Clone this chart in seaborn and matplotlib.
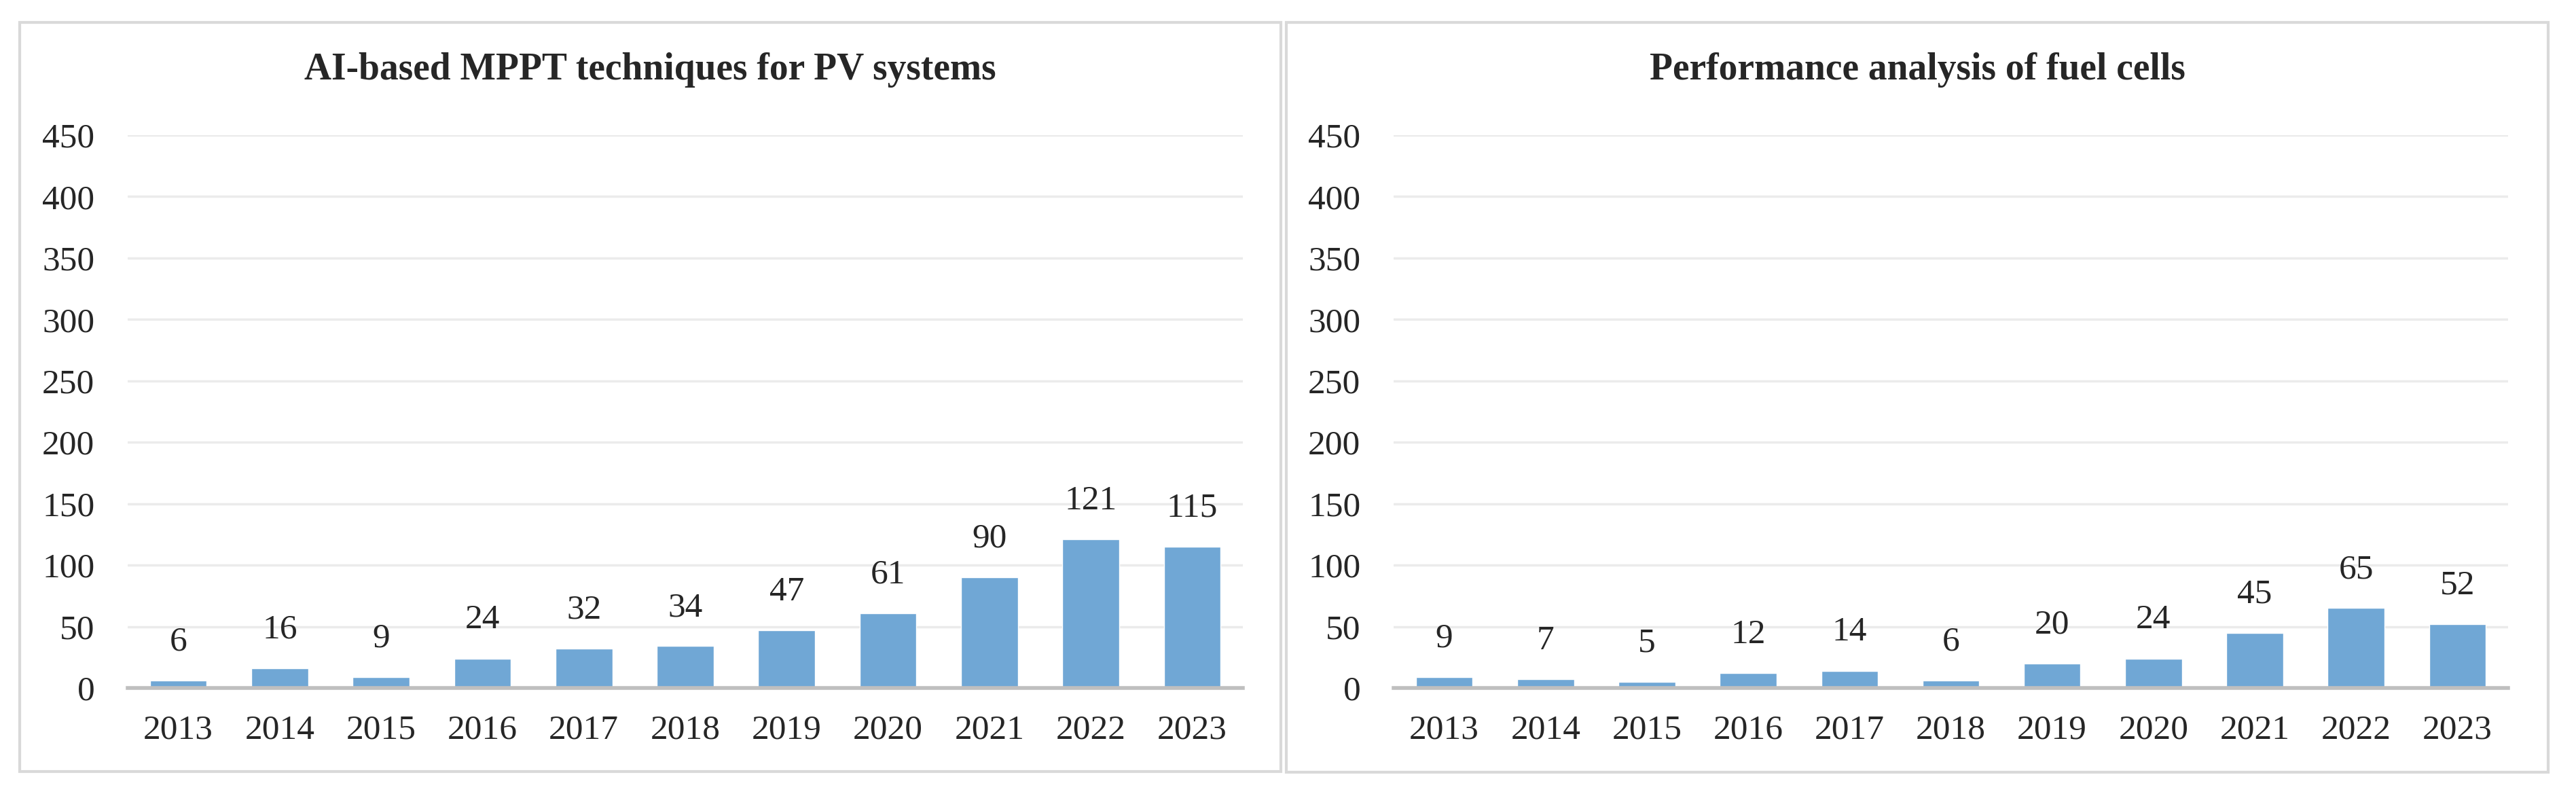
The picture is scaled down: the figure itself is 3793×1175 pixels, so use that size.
import matplotlib
matplotlib.use("Agg")
import matplotlib.pyplot as plt
from matplotlib.patches import Rectangle
import seaborn as sns

# Publications per year
years = ["2013", "2014", "2015", "2016", "2017", "2018",
         "2019", "2020", "2021", "2022", "2023"]
mppt_counts = [6, 16, 9, 24, 32, 34, 47, 61, 90, 121, 115]
fuel_cell_counts = [9, 7, 5, 12, 14, 6, 20, 24, 45, 65, 52]

titles = ["AI-based MPPT techniques for PV systems",
          "Performance analysis of fuel cells"]
y_ticks = [0, 50, 100, 150, 200, 250, 300, 350, 400, 450]

bar_color = "#70A7D5"

sns.set_theme(style="white")
plt.rcParams["font.family"] = ["Liberation Serif", "DejaVu Serif"]

fig = plt.figure(figsize=(37.93, 11.75), dpi=100)

# panel frames (figure pixels: x0, y0 from top, x1, y1)
panels = [(29, 33, 1886, 1136), (1894, 33, 3752, 1137)]
W, H = 3793, 1175
for x0, y0, x1, y1 in panels:
    fig.patches.append(Rectangle((x0 / W, 1 - y1 / H), (x1 - x0) / W, (y1 - y0) / H,
                                 transform=fig.transFigure, fill=False,
                                 edgecolor="#D9D9D9", linewidth=3))

ax_left = fig.add_axes([188 / W, 1 - 1013 / H, 1642 / W, 814 / H])
ax_right = fig.add_axes([2052 / W, 1 - 1013 / H, 1641 / W, 814 / H])

for ax, counts, title, (x0, y0, x1, y1) in zip([ax_left, ax_right],
                                              [mppt_counts, fuel_cell_counts],
                                              titles, panels):
    sns.barplot(x=years, y=counts, color=bar_color, saturation=1,
                width=0.56, ax=ax)
    ax.bar_label(ax.containers[0], padding=24, fontsize=37)

    ax.set_ylim(0, 450)
    ax.set_yticks(y_ticks)
    ax.set_xlim(-0.5, len(years) - 0.5)
    ax.yaxis.grid(True, color="#EBEBEB", linewidth=2.5)
    ax.set_axisbelow(True)
    for side in ["top", "right", "left"]:
        ax.spines[side].set_visible(False)
    ax.spines["bottom"].set_color("#BFBFBF")
    ax.spines["bottom"].set_linewidth(4)
    ax.tick_params(axis="y", length=0, pad=35, labelsize=37)
    ax.tick_params(axis="x", length=0, pad=28, labelsize=37)
    ax.set_xlabel("")
    ax.set_ylabel("")

    fig.text((x0 + x1) / 2 / W, 1 - 103 / H, title, ha="center", va="center",
             fontsize=40, fontweight="bold")

fig.savefig("out.png", dpi=100)
